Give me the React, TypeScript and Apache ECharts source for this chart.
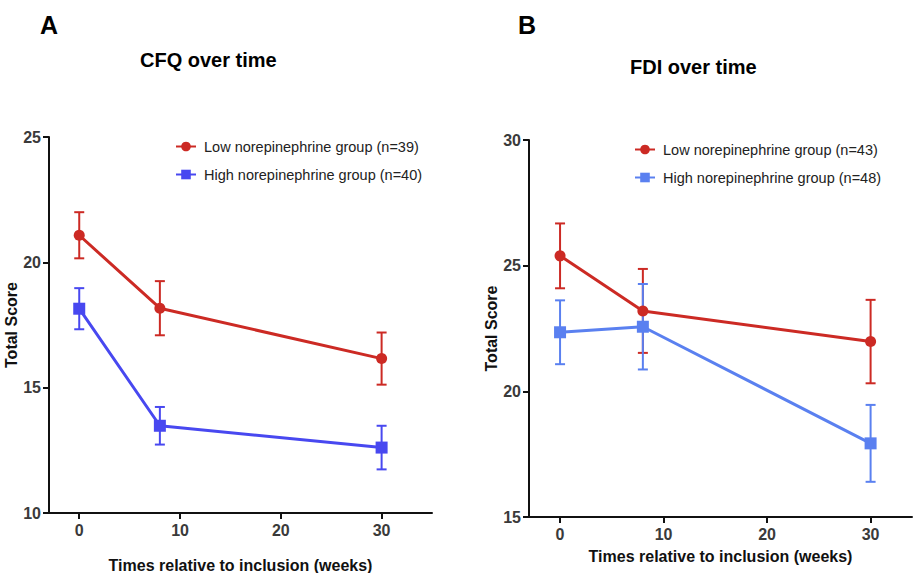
import React, { useEffect, useRef } from "react";
import * as echarts from "echarts";

// Time points (weeks)
const weeks = [0, 8, 30];

// Panel A: CFQ
const cfqLowMean = [21.08, 18.17, 16.16];
const cfqLowErr = [0.92, 1.08, 1.04];
const cfqHighMean = [18.15, 13.48, 12.61];
const cfqHighErr = [0.82, 0.75, 0.87];

// Panel B: FDI
const fdiLowMean = [25.39, 23.2, 21.98];
const fdiLowErr = [1.29, 1.67, 1.66];
const fdiHighMean = [22.35, 22.57, 17.93];
const fdiHighErr = [1.27, 1.7, 1.53];

const xTicks = [0, 10, 20, 30];

const nameLowA = "Low norepinephrine group (n=39)";
const nameHighA = "High norepinephrine group (n=40)";
const nameLowB = "Low norepinephrine group (n=43)";
const nameHighB = "High norepinephrine group (n=48)";

const RED = "#cc2a24";
const BLUE_A = "#4848f0";
const BLUE_B = "#5a80f0";
const FONT = "'Liberation Sans', Arial, Helvetica, sans-serif";

function pts(means: number[]) {
  return weeks.map((w, i) => [w, means[i]]);
}
function errs(means: number[], e: number[]) {
  return weeks.map((w, i) => [w, means[i] - e[i], means[i] + e[i]]);
}

function errorSeries(data: number[][], color: string, axisIdx: number) {
  return {
    type: "custom",
    xAxisIndex: axisIdx,
    yAxisIndex: axisIdx,
    z: 2,
    silent: true,
    data,
    renderItem: (params: any, api: any) => {
      const x = api.value(0);
      const lo = api.value(1);
      const hi = api.value(2);
      const top = api.coord([x, hi]);
      const bot = api.coord([x, lo]);
      const hw = 5;
      const style = { stroke: color, lineWidth: 2 };
      return {
        type: "group",
        children: [
          { type: "line", shape: { x1: top[0], y1: top[1], x2: bot[0], y2: bot[1] }, style },
          { type: "line", shape: { x1: top[0] - hw, y1: top[1], x2: top[0] + hw, y2: top[1] }, style },
          { type: "line", shape: { x1: bot[0] - hw, y1: bot[1], x2: bot[0] + hw, y2: bot[1] }, style },
        ],
      };
    },
  };
}

function xAxisCfg(gridIndex: number, max: number, nameGap: number) {
  return {
    type: "value",
    gridIndex,
    min: -3,
    max,
    name: "Times relative to inclusion (weeks)",
    nameLocation: "middle",
    nameGap,
    nameTextStyle: { fontFamily: FONT, fontSize: 16, fontWeight: "bold", color: "#111" },
    axisLine: { show: true, onZero: false, lineStyle: { color: "#111", width: 2 } },
    axisTick: { show: true, customValues: xTicks, length: 6, lineStyle: { color: "#111", width: 2 } },
    axisLabel: {
      customValues: xTicks,
      margin: 9,
      fontFamily: FONT,
      fontSize: 16,
      fontWeight: "bold",
      color: "#3a3a3a",
    },
    splitLine: { show: false },
  };
}

function yAxisCfg(gridIndex: number, min: number, max: number) {
  return {
    type: "value",
    gridIndex,
    min,
    max,
    interval: 5,
    name: "Total Score",
    nameLocation: "middle",
    nameGap: 29,
    nameRotate: 90,
    nameTextStyle: { fontFamily: FONT, fontSize: 16, fontWeight: "bold", color: "#111" },
    axisLine: { show: true, onZero: false, lineStyle: { color: "#111", width: 2 } },
    axisTick: { show: true, length: 6, lineStyle: { color: "#111", width: 2 } },
    axisLabel: {
      margin: 8,
      fontFamily: FONT,
      fontSize: 16,
      fontWeight: "bold",
      color: "#3a3a3a",
    },
    splitLine: { show: false },
  };
}

function lineSeries(name: string, means: number[], color: string, symbol: string, size: number, axisIdx: number) {
  return {
    type: "line",
    name,
    xAxisIndex: axisIdx,
    yAxisIndex: axisIdx,
    data: pts(means),
    symbol,
    symbolSize: size,
    showSymbol: true,
    z: 3,
    itemStyle: { color },
    lineStyle: { color, width: 3 },
    emphasis: { disabled: true },
  };
}

function legendCfg(left: number, top: number, names: string[]) {
  return {
    left,
    top,
    padding: 0,
    orient: "vertical",
    data: names,
    itemWidth: 20,
    itemHeight: 12,
    itemGap: 13,
    textStyle: { fontFamily: FONT, fontSize: 14.5, color: "#222", padding: [0, 0, 0, 3] },
    selectedMode: false,
  };
}

export default function App() {
  const ref = useRef<HTMLDivElement>(null);
  useEffect(() => {
    if (!ref.current) return;
    const chart = echarts.init(ref.current, undefined, { renderer: "svg" });
    chart.setOption({
      animation: false,
      backgroundColor: "#ffffff",
      grid: [
        { left: 49, top: 137, width: 383, height: 376, outerBoundsMode: "none", containLabel: false },
        { left: 529, top: 140, width: 383, height: 377, outerBoundsMode: "none", containLabel: false },
      ],
      xAxis: [xAxisCfg(0, 35, 44), xAxisCfg(1, 34, 31)],
      yAxis: [yAxisCfg(0, 10, 25), yAxisCfg(1, 15, 30)],
      legend: [
        legendCfg(175, 139, [nameLowA, nameHighA]),
        legendCfg(634, 142, [nameLowB, nameHighB]),
      ],
      graphic: [
        { type: "text", left: 40, top: 12, style: { text: "A", font: `bold 25px ${FONT}`, fill: "#000" } },
        { type: "text", left: 140, top: 50, style: { text: "CFQ over time", font: `bold 20px ${FONT}`, fill: "#000" } },
        { type: "text", left: 518, top: 12, style: { text: "B", font: `bold 25px ${FONT}`, fill: "#000" } },
        { type: "text", left: 630, top: 57, style: { text: "FDI over time", font: `bold 20px ${FONT}`, fill: "#000" } },
      ],
      series: [
        errorSeries(errs(cfqLowMean, cfqLowErr), RED, 0),
        errorSeries(errs(cfqHighMean, cfqHighErr), BLUE_A, 0),
        lineSeries(nameLowA, cfqLowMean, RED, "circle", 11, 0),
        lineSeries(nameHighA, cfqHighMean, BLUE_A, "rect", 12, 0),
        errorSeries(errs(fdiLowMean, fdiLowErr), RED, 1),
        errorSeries(errs(fdiHighMean, fdiHighErr), BLUE_B, 1),
        lineSeries(nameLowB, fdiLowMean, RED, "circle", 11, 1),
        lineSeries(nameHighB, fdiHighMean, BLUE_B, "rect", 12, 1),
      ],
    });
    return () => chart.dispose();
  }, []);
  return (
    <div
      ref={ref}
      style={{ position: "fixed", left: 0, top: 0, width: 913, height: 573, background: "#fff" }}
    />
  );
}
